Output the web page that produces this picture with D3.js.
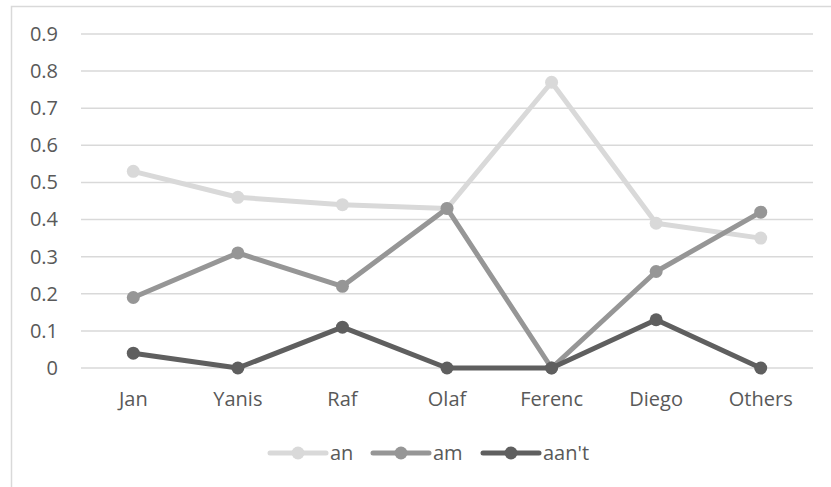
<!DOCTYPE html>
<html>
<head>
<meta charset="utf-8">
<script src="https://cdn.jsdelivr.net/npm/d3@7"></script>
<style>
  html, body { margin: 0; padding: 0; background: #ffffff; }
  svg { display: block; }
  text { font-family: "Open Sans", "Noto Sans", sans-serif; fill: #595959; }
</style>
</head>
<body>
<svg id="chart" width="831" height="487"></svg>
<script>
// Categories along the horizontal axis
const categories = ["Jan", "Yanis", "Raf", "Olaf", "Ferenc", "Diego", "Others"];

// Series values
const anValues   = [0.53, 0.46, 0.44, 0.43, 0.77, 0.39, 0.35];
const amValues   = [0.19, 0.31, 0.22, 0.43, 0.00, 0.26, 0.42];
const aantValues = [0.04, 0.00, 0.11, 0.00, 0.00, 0.13, 0.00];

// Y axis ticks
const yTicks = [0, 0.1, 0.2, 0.3, 0.4, 0.5, 0.6, 0.7, 0.8, 0.9];

const series = [
  { name: "an",    values: anValues,   color: "#d9d9d9" },
  { name: "am",    values: amValues,   color: "#969696" },
  { name: "aan't", values: aantValues, color: "#5f5f5f" }
];

const svg = d3.select("#chart");

// Chart frame (right and bottom edges fall outside the canvas)
svg.append("rect")
  .attr("x", 11.5).attr("y", 6.5)
  .attr("width", 840).attr("height", 500)
  .attr("fill", "none")
  .attr("stroke", "#d9d9d9")
  .attr("stroke-width", 1.5);

const plot = { left: 81, right: 813, top: 34, bottom: 368 };

const x = d3.scaleBand()
  .domain(categories)
  .range([plot.left, plot.right]);

const y = d3.scaleLinear()
  .domain([0, 0.9])
  .range([plot.bottom, plot.top]);

// Horizontal gridlines
svg.append("g")
  .selectAll("line")
  .data(yTicks)
  .join("line")
  .attr("x1", plot.left).attr("x2", plot.right)
  .attr("y1", d => y(d)).attr("y2", d => y(d))
  .attr("stroke", "#d9d9d9")
  .attr("stroke-width", 1.5);

// Y axis labels
const yAxis = d3.axisLeft(y)
  .tickValues(yTicks)
  .tickFormat(d => d === 0 ? "0" : d3.format(".1f")(d))
  .tickSize(0)
  .tickPadding(0);

const yg = svg.append("g")
  .attr("transform", `translate(58,0)`)
  .call(yAxis);
yg.select(".domain").remove();
yg.selectAll("text")
  .attr("font-size", 20)
  .attr("font-family", "'Open Sans', sans-serif")
  .attr("fill", "#595959");

// X axis labels
const xAxis = d3.axisBottom(x).tickSize(0).tickPadding(0);
const xg = svg.append("g")
  .attr("transform", `translate(0,392)`)
  .call(xAxis);
xg.select(".domain").remove();
xg.selectAll("text")
  .attr("font-size", 20)
  .attr("font-family", "'Open Sans', sans-serif")
  .attr("fill", "#595959");

const cx = c => x(c) + x.bandwidth() / 2;

const line = d3.line()
  .x((d, i) => cx(categories[i]))
  .y(d => y(d));

// Lines and markers
series.forEach(s => {
  const g = svg.append("g");
  g.append("path")
    .datum(s.values)
    .attr("d", line)
    .attr("fill", "none")
    .attr("stroke", s.color)
    .attr("stroke-width", 5)
    .attr("stroke-linejoin", "round");
  g.selectAll("circle")
    .data(s.values)
    .join("circle")
    .attr("cx", (d, i) => cx(categories[i]))
    .attr("cy", d => y(d))
    .attr("r", 6.5)
    .attr("fill", s.color);
});

// Legend
const legendPos = [270, 373, 483];
const legend = svg.append("g");
series.forEach((s, i) => {
  const lx = legendPos[i];
  const ly = 453;
  legend.append("line")
    .attr("x1", lx).attr("x2", lx + 56)
    .attr("y1", ly).attr("y2", ly)
    .attr("stroke", s.color)
    .attr("stroke-width", 5)
    .attr("stroke-linecap", "round");
  legend.append("circle")
    .attr("cx", lx + 28).attr("cy", ly)
    .attr("r", 6.5)
    .attr("fill", s.color);
  legend.append("text")
    .attr("x", lx + 60).attr("y", ly)
    .attr("dy", "0.35em")
    .attr("font-size", 20)
    .text(s.name);
});
</script>
</body>
</html>
